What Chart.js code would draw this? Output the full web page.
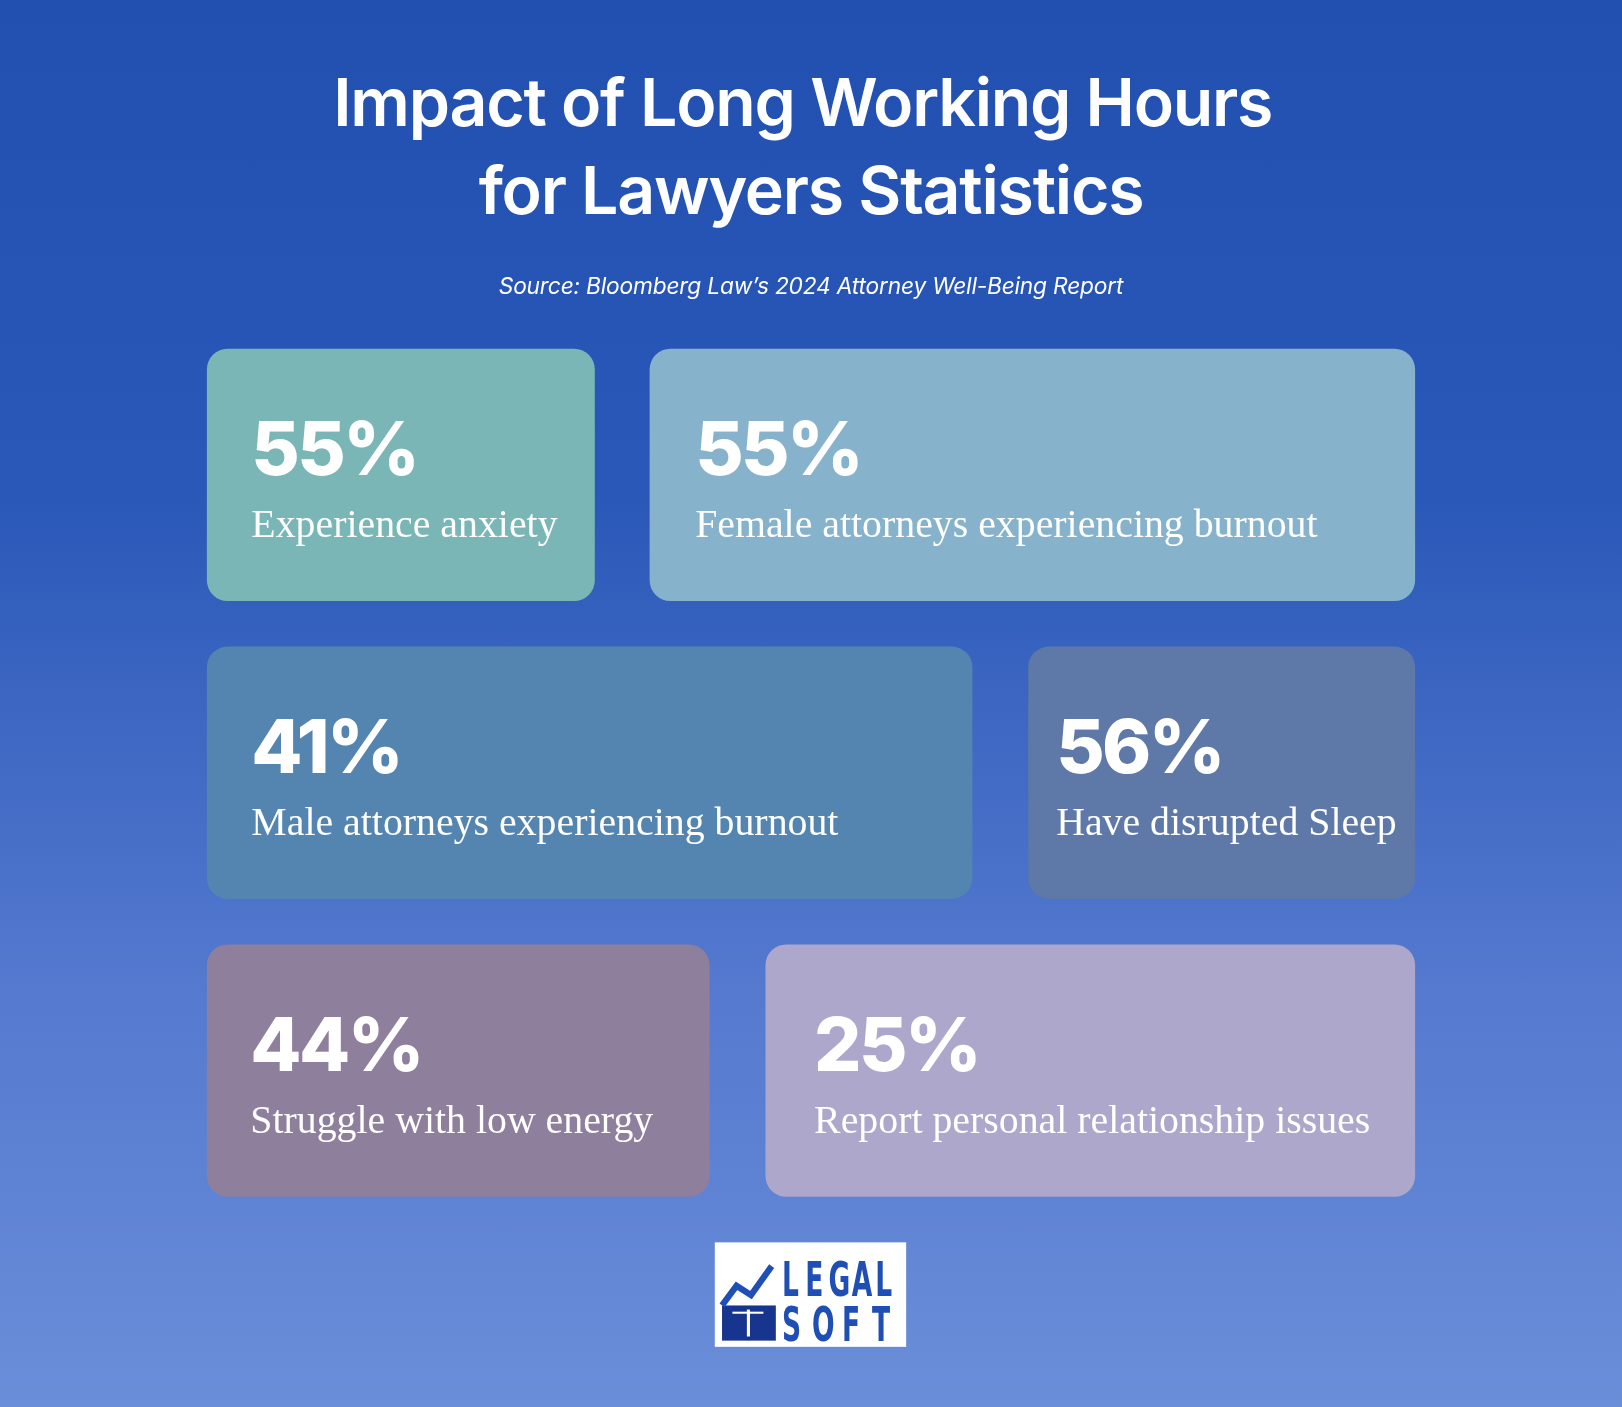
<!DOCTYPE html>
<html><head><meta charset="utf-8">
<script src="https://cdn.jsdelivr.net/npm/chart.js@4"></script>
<style>html,body{margin:0;padding:0;}body{width:1622px;height:1407px;background:linear-gradient(180deg,#2150b0 0%,#2a58b8 35%,#5479cf 70%,#6b8ed9 100%);overflow:hidden}#c{display:block}</style>
</head><body>
<canvas id="c" width="1622" height="1407" style="width:1622px;height:1407px"></canvas>
<script>
const rows = ['r1','r1','r2','r2','r3','r3'];
const percents = [55, 55, 41, 56, 44, 25];
const labels = ['Experience anxiety','Female attorneys experiencing burnout','Male attorneys experiencing burnout','Have disrupted Sleep','Struggle with low energy','Report personal relationship issues'];
const cardSpans = [[200,575],[628,1368],[200,940],[994,1368],[200,686],[740,1368]];
const cardColors = ['#7ab6b6','#86b3cb','#5485b0','#5e78a8','#8e7f9c','#ada7cc'];
const textInset = [43,44,43,27,42,47];
const title = ['Impact of Long Working Hours','for Lawyers Statistics'];
const source = 'Source: Bloomberg Law\u2019s 2024 Attorney Well-Being Report';
const S = 1622/1568;

function narrowText(ctx, t, x, y, sx){
  ctx.save(); ctx.translate(x,y); ctx.scale(sx,1); ctx.fillText(t,0,0); ctx.restore();
}
const textPlugin = {
  id:'txt',
  afterDatasetsDraw(chart){
    const ctx = chart.ctx;
    ctx.save();
    ctx.fillStyle='#fff';ctx.textAlign='center';ctx.textBaseline='middle';
    ctx.font = `600 ${64*S}px Inter`;
    ctx.letterSpacing = `${-1.2*S}px`;
    ctx.fillText(title[0], 776*S, 103*S);
    ctx.fillText(title[1], 784*S, 188*S);
    ctx.letterSpacing = '0px';
    ctx.font = `italic ${22*S}px Inter`;
    ctx.letterSpacing = `${-0.2*S}px`;
    ctx.fillText(source, 784*S, 278*S);
    const meta = chart.getDatasetMeta(0);
    meta.data.forEach((el,i)=>{
      const left = Math.min(el.x, el.base);
      const top = el.y - el.height/2;
      ctx.textAlign='left';ctx.textBaseline='alphabetic';
      ctx.fillStyle='#fff';
      ctx.font = `800 ${72*S}px Inter`;
      ctx.letterSpacing = `${-2.5*S}px`;
      ctx.fillText(percents[i]+'%', left + textInset[i]*S, top + 122*S);
      ctx.letterSpacing = '0px';
      ctx.font = `${38.5*S}px "Liberation Serif"`;
      narrowText(ctx, labels[i], left + textInset[i]*S, top + 182*S, 1);
    });
    ctx.letterSpacing='0px';
    // logo
    const lx=691*S, ly=1201*S, lw=185*S, lh=101*S;
    ctx.fillStyle='#fff';ctx.fillRect(lx,ly,lw,lh);
    ctx.fillStyle='#1f4fb5';
    ctx.font = `bold ${46*S}px "DejaVu Sans Condensed"`;
    ctx.textAlign='left';ctx.textBaseline='alphabetic';
    const drawSpaced=(t,x,y,step)=>{for(const ch of t){narrowText(ctx,ch,x,y,0.62);x+=step;}};
    drawSpaced('LEGAL', 756*S, 1253*S, 22.5*S);
    drawSpaced('SOFT', 756*S, 1296*S, 29*S);
    ctx.fillStyle='#17358f';
    ctx.fillRect(698*S,1262*S,52*S,34*S);
    ctx.strokeStyle='#1f4fb5';ctx.lineWidth=6*S;ctx.beginPath();
    ctx.moveTo(698*S,1262*S);ctx.lineTo(712*S,1243*S);ctx.lineTo(726*S,1252*S);ctx.lineTo(746*S,1224*S);ctx.stroke();
    ctx.fillStyle='#fff';ctx.fillRect(722*S,1266*S,3*S,26*S);ctx.fillRect(708*S,1268*S,30*S,2*S);
    ctx.restore();
  }
};

new Chart(document.getElementById('c'),{
  type:'bar',
  data:{labels:['r1','r2','r3'],datasets:[{
    data: cardSpans.map((s,i)=>({x:s,y:rows[i]})),
    backgroundColor: cardColors, borderRadius: 20*S, borderSkipped:false,
    barPercentage: 0.847, categoryPercentage: 1, grouped:false
  }]},
  options:{
    indexAxis:'y', responsive:false, animation:false, devicePixelRatio:1,
    layout:{padding:{top:315*S,bottom:(1360-1179)*S + (1407-1360*S),left:0,right:0}},
    scales:{x:{type:'linear',min:0,max:1568,display:false},y:{display:false}},
    plugins:{legend:{display:false},tooltip:{enabled:false}}
  },
  plugins:[textPlugin]
});
</script>
</body></html>
